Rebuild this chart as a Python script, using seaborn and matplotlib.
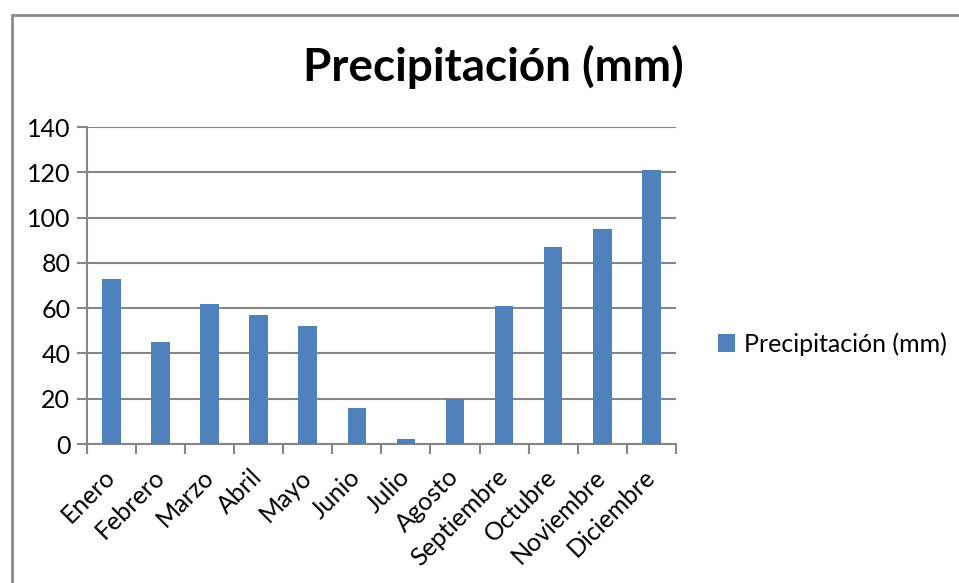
import pandas as pd
import matplotlib.pyplot as plt
import seaborn as sns
from matplotlib.lines import Line2D
from matplotlib.patches import Patch

# datos de precipitación mensual
meses = ['Enero', 'Febrero', 'Marzo', 'Abril', 'Mayo', 'Junio', 'Julio',
         'Agosto', 'Septiembre', 'Octubre', 'Noviembre', 'Diciembre']
precipitacion = [73, 45, 62, 57, 52, 16, 2, 20, 61, 87, 95, 121]
serie = 'Precipitación (mm)'

df = pd.DataFrame({'mes': meses, 'mm': precipitacion})

sns.set_style('white')
plt.rcParams['font.family'] = ['Lato', 'DejaVu Sans']
plt.rcParams['text.color'] = 'black'
plt.rcParams['xtick.color'] = 'black'
plt.rcParams['ytick.color'] = 'black'

color = '#4F81BD'
gris = '#868686'

fig = plt.figure(figsize=(9.59, 5.83), dpi=100)
ax = fig.add_axes([0.0907, 0.2384, 0.614, 0.5437])

sns.barplot(data=df, x='mes', y='mm', color=color, width=0.38,
            saturation=1, linewidth=0, ax=ax, zorder=3)

ax.set_ylim(0, 140)
ax.set_xlim(-0.5, len(meses) - 0.5)
ax.set_yticks(range(0, 141, 20))
ax.yaxis.grid(True, color=gris, linewidth=1.5, zorder=0)
ax.set_axisbelow(True)
ax.set_xlabel('')
ax.set_ylabel('')

for s in ['top', 'right']:
    ax.spines[s].set_visible(False)
for s in ['left', 'bottom']:
    ax.spines[s].set_color(gris)
    ax.spines[s].set_linewidth(1.5)

# marcas entre categorías, estilo Excel
ax.set_xticks([i - 0.5 for i in range(len(meses) + 1)], minor=True)
ax.tick_params(axis='x', which='minor', length=7, width=1.5, color=gris,
               direction='out', bottom=True)
ax.tick_params(axis='x', which='major', length=0, pad=21)
ax.tick_params(axis='y', length=7, width=1.5, color=gris, direction='out',
               left=True, labelsize=18, pad=5)
ax.set_xticks(range(len(meses)))
ax.set_xticklabels(meses, rotation=45, ha='right', va='center',
                   rotation_mode='anchor', fontsize=18)

fig.text(0.514, 0.885, serie, ha='center', va='center', fontsize=33,
         fontweight='bold')

ax.legend(handles=[Patch(facecolor=color, edgecolor='none', label=serie)],
          loc='center left', bbox_to_anchor=(1.033, 0.315), frameon=False,
          fontsize=18, handlelength=0.7, handleheight=0.7, handletextpad=0.35)

# borde del gráfico
fig.add_artist(Line2D([12 / 959, 12 / 959], [0, 1 - 15 / 583],
                      transform=fig.transFigure, color='#8c8c8c', linewidth=2))
fig.add_artist(Line2D([12 / 959, 1], [1 - 15 / 583, 1 - 15 / 583],
                      transform=fig.transFigure, color='#8c8c8c', linewidth=2))

fig.savefig('out.png', dpi=100)
